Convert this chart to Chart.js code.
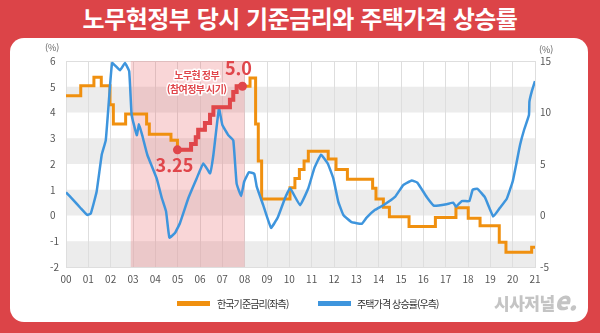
<!DOCTYPE html>
<html lang="ko">
<head>
<meta charset="utf-8">
<title>노무현정부 당시 기준금리와 주택가격 상승률</title>
<script src="https://cdn.jsdelivr.net/npm/chart.js@4.4.1/dist/chart.umd.min.js"></script>
<style>
  html, body { margin: 0; padding: 0; }
  body {
    width: 600px; height: 333px; position: relative; overflow: hidden;
    background: #dc4448;
    font-family: 'Noto Sans CJK KR', 'Noto Sans', sans-serif;
  }
  #titulo {
    position: absolute; left: 0; top: 3px; width: 600px;
    text-align: center; color: #fff; font-weight: 700;
    font-size: 24px; line-height: 30px; letter-spacing: -0.5px;
  }
  #cartao {
    position: absolute; left: 10px; top: 38px; width: 578px; height: 284px;
    background: #fff; border-radius: 14px;
  }
  #grafico { position: absolute; left: 0; top: 0; }
  .unidade { position: absolute; font-size: 9px; color: #666; line-height: 10px; }
  .legenda {
    position: absolute; top: 296px; height: 14px; display: flex; align-items: center;
    font-size: 10px; color: #333; letter-spacing: -0.9px; white-space: nowrap;
  }
  .legenda i { display: inline-block; width: 33px; height: 5px; margin-right: 7px; }
  #marca {
    position: absolute; left: 494px; top: 287px; color: #c4c4c4; font-weight: 900;
    font-size: 17px; line-height: 24px; white-space: nowrap; letter-spacing: -0.5px;
  }
  #marca span { font-size: 25px; font-style: italic; letter-spacing: -1px; }
</style>
</head>
<body>
<div id="titulo">노무현정부 당시 기준금리와 주택가격 상승률</div>
<div id="cartao"></div>
<canvas id="grafico" width="600" height="333"></canvas>
<div class="unidade" style="left:45px; top:43px;">(%)</div>
<div class="unidade" style="left:539px; top:45px;">(%)</div>
<div class="legenda" style="left:177px;"><i style="background:#f0900f"></i>한국기준금리(좌측)</div>
<div class="legenda" style="left:318px;"><i style="background:#3e95dd; margin-right:6px"></i>주택가격 상승률(우측)</div>
<div id="marca">시사저널<span>e.</span></div>

<script>
// 한국기준금리 (좌측축, 계단형) - 각 구간 시작 시점과 값
const anosJuros = [
  2000.00, 2000.66, 2001.25, 2001.58, 2001.97, 2002.12, 2002.67, 2003.61, 2003.73, 2004.70,
  2004.99, 2005.60, 2005.81, 2005.92, 2006.22, 2006.45, 2006.60, 2007.34, 2007.49, 2007.64,
  2007.90, 2008.24, 2008.49, 2008.61, 2008.76, 2010.03, 2010.25, 2010.45, 2010.66, 2010.85,
  2011.74, 2012.09, 2012.60, 2013.73, 2013.88, 2014.21, 2014.48, 2015.36, 2016.54, 2017.46,
  2018.01, 2018.54, 2019.40, 2019.70, 2020.85, 2021.00
];
const juros = [
  4.65, 5.04, 5.37, 5.04, 4.30, 3.55, 3.94, 3.55, 3.16, 2.92,
  2.55, 2.78, 3.04, 3.33, 3.59, 3.91, 4.20, 4.50, 4.80, 5.02,
  5.02, 5.34, 3.55, 2.12, 0.64, 1.08, 1.44, 1.79, 2.12, 2.50,
  2.19, 1.79, 1.41, 1.06, 0.64, 0.32, -0.05, -0.43, -0.08, 0.30,
  -0.11, -0.40, -1.04, -1.43, -1.23, -1.23
];

// 참여정부 구간 (빨간 계단) - juros 배열의 시작/끝 인덱스
const iRohIni = 10;
const iRohFim = 20;
const rohInicio = 2002.9;
const rohFim = 2008.0;

// 주택가격 상승률 (우측축)
const anosCasa = [
  2000.00, 2000.33, 2000.66, 2000.95, 2001.11, 2001.37, 2001.60, 2001.78, 2001.94, 2002.07,
  2002.42, 2002.64, 2002.83, 2002.94, 2003.17, 2003.27, 2003.43, 2003.64, 2004.06, 2004.29,
  2004.48, 2004.63, 2004.88, 2005.10, 2005.48, 2005.85, 2006.15, 2006.45, 2006.60, 2006.85,
  2007.00, 2007.27, 2007.49, 2007.64, 2007.84, 2007.98, 2008.19, 2008.43, 2008.54, 2008.83,
  2009.18, 2009.48, 2009.81, 2010.03, 2010.48, 2010.85, 2011.12, 2011.42, 2011.72, 2011.97,
  2012.19, 2012.42, 2012.79, 2013.24, 2013.46, 2013.84, 2014.21, 2014.73, 2015.10, 2015.48,
  2015.73, 2016.15, 2016.48, 2017.05, 2017.34, 2017.46, 2017.72, 2018.06, 2018.21, 2018.42,
  2018.76, 2019.13, 2019.43, 2019.73, 2020.00, 2020.18, 2020.33, 2020.51, 2020.73, 2020.75,
  2020.85, 2021.00
];
const casa = [
  2.25, 1.5, 0.7, 0.05, 0.2, 2.3, 5.9, 7.3, 11.7, 14.8,
  14.1, 14.8, 14.0, 9.75, 7.8, 8.85, 7.65, 5.9, 3.6, 1.7,
  0.4, -2.15, -1.7, -0.75, 1.7, 3.6, 5.05, 4.1, 5.9, 10.4,
  8.8, 7.8, 7.3, 3.1, 1.9, 3.3, 4.2, 4.05, 2.8, 1.0,
  -1.2, -0.2, 1.7, 2.65, 1.0, 2.65, 4.6, 5.9, 5.05, 3.6,
  1.35, 0.05, -0.65, -0.8, -0.2, 0.55, 1.0, 1.8, 2.95, 3.4,
  3.2, 1.8, 0.95, 1.1, 1.25, 0.85, 1.4, 1.4, 2.5, 2.6,
  1.75, -0.1, 0.75, 1.6, 3.3, 5.2, 6.85, 8.3, 9.75, 11.05,
  12.0, 13.05
];

// 눈금 라벨
const rotulosX = ['00','01','02','03','04','05','06','07','08','09','10',
                  '11','12','13','14','15','16','17','18','19','20','21'];
const faixas = [[4, 5], [2, 3], [0, 1], [-2, -1]];

const laranja = '#f0900f';
const azul = '#3e95dd';
const vermelho = '#e0464b';
const cinzaGrade = '#dedede';
const fonte = "'Noto Sans CJK KR', 'Noto Sans', sans-serif";

const pontos = (xs, ys) => xs.map((x, i) => ({ x: x, y: ys[i] }));

// faixas cinza horizontais
const faixasPlugin = {
  id: 'faixas',
  beforeDraw(chart) {
    const { ctx, chartArea: a, scales } = chart;
    ctx.save();
    ctx.fillStyle = '#ececec';
    faixas.forEach(([lo, hi]) => {
      const t = scales.y.getPixelForValue(hi);
      const b = scales.y.getPixelForValue(lo);
      ctx.fillRect(a.left, t, a.right - a.left, b - t);
    });
    ctx.restore();
  }
};

// sombra do periodo do governo Roh
const sombraPlugin = {
  id: 'sombra',
  beforeDatasetsDraw(chart) {
    const { ctx, chartArea: a, scales } = chart;
    const x0 = scales.x.getPixelForValue(rohInicio);
    const x1 = scales.x.getPixelForValue(rohFim);
    ctx.save();
    ctx.fillStyle = 'rgba(230, 90, 95, 0.25)';
    ctx.fillRect(x0, a.top, x1 - x0, a.bottom - a.top);
    ctx.restore();
  }
};

// textos de anotacao
const notasPlugin = {
  id: 'notas',
  afterDatasetsDraw(chart) {
    const { ctx, scales } = chart;
    const meta = chart.getDatasetMeta(0);
    const p0 = meta.data[0];
    const p1 = meta.data[meta.data.length - 1];
    ctx.save();
    ctx.textAlign = 'center';
    ctx.textBaseline = 'middle';
    ctx.fillStyle = vermelho;
    ctx.font = '700 18px ' + fonte;
    ctx.fillText('3.25', p0.x - 3, p0.y + 15);
    ctx.fillText('5.0', p1.x - 4, p1.y - 18);

    ctx.font = '700 10px ' + fonte;
    ctx.letterSpacing = '-0.6px';
    ctx.lineWidth = 3;
    ctx.lineJoin = 'round';
    ctx.strokeStyle = '#fff';
    const cx = scales.x.getPixelForValue(2005.85);
    [['노무현 정부', 5.46], ['(참여정부 시기)', 4.91]].forEach(([txt, v]) => {
      const yy = scales.y.getPixelForValue(v);
      ctx.strokeText(txt, cx, yy);
      ctx.fillText(txt, cx, yy);
    });
    ctx.restore();
  }
};

const nRoh = iRohFim - iRohIni + 1;

const ctx = document.getElementById('grafico').getContext('2d');
new Chart(ctx, {
  type: 'line',
  data: {
    datasets: [
      {
        label: '참여정부',
        data: pontos(anosJuros.slice(iRohIni, iRohFim + 1), juros.slice(iRohIni, iRohFim + 1)),
        yAxisID: 'y',
        stepped: true,
        borderColor: vermelho,
        borderWidth: 4,
        pointRadius: (c) => (c.dataIndex === 0 || c.dataIndex === nRoh - 1) ? 4.5 : 0,
        pointBackgroundColor: vermelho,
        pointBorderWidth: 0
      },
      {
        label: '주택가격 상승률(우측)',
        data: pontos(anosCasa, casa),
        yAxisID: 'y2',
        borderColor: azul,
        borderWidth: 2.5,
        pointRadius: 0,
        tension: 0.1
      },
      {
        label: '한국기준금리(좌측)',
        data: pontos(anosJuros, juros),
        yAxisID: 'y',
        stepped: true,
        borderColor: laranja,
        borderWidth: 3,
        pointRadius: 0
      }
    ]
  },
  options: {
    responsive: false,
    animation: false,
    layout: { padding: { left: 50, top: 61, right: 0, bottom: 0 } },
    plugins: {
      legend: { display: false },
      tooltip: { enabled: false }
    },
    scales: {
      x: {
        type: 'linear',
        min: 2000,
        max: 2021,
        afterFit: (s) => { s.height = 66; },
        ticks: {
          stepSize: 1,
          autoSkip: false,
          maxRotation: 0,
          padding: 6,
          color: '#555',
          font: { family: fonte, size: 10 },
          callback: (v) => rotulosX[v - 2000]
        },
        grid: { color: cinzaGrade, drawTicks: false },
        border: { color: cinzaGrade }
      },
      y: {
        position: 'left',
        min: -2,
        max: 6,
        afterFit: (s) => { s.width = 16; },
        ticks: {
          stepSize: 1,
          crossAlign: 'far',
          color: '#555',
          font: { family: fonte, size: 10 }
        },
        grid: {
          drawTicks: false,
          color: (c) => (c.tick && c.tick.value === 6) ? cinzaGrade : 'rgba(0,0,0,0)'
        },
        border: { display: false }
      },
      y2: {
        position: 'right',
        min: -5,
        max: 15,
        afterFit: (s) => { s.width = 65; },
        ticks: {
          stepSize: 5,
          padding: 5,
          color: '#555',
          font: { family: fonte, size: 10 }
        },
        grid: { display: false, drawTicks: false },
        border: { display: false }
      }
    }
  },
  plugins: [faixasPlugin, sombraPlugin, notasPlugin]
});
</script>
</body>
</html>
